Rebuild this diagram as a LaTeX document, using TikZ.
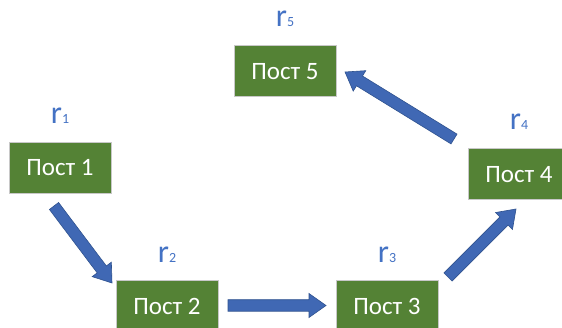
\documentclass[tikz,border=0pt]{standalone}
\usepackage{fontspec}
\setmainfont{Carlito}
\usetikzlibrary{calc}
\definecolor{boxgreen}{HTML}{548235}
\definecolor{boxedge}{HTML}{C8C8C8}
\definecolor{lblblue}{HTML}{4472C4}
\definecolor{arrfill}{HTML}{4068B4}
\definecolor{arredge}{HTML}{2F528F}
\tikzset{
  post/.style={draw=boxedge, line width=1pt, fill=boxgreen, text=white,
    minimum width=102pt, minimum height=51pt, inner sep=0pt,
    font=\fontsize{25}{25}\selectfont},
  rlabel/.style={text=lblblue, anchor=base, inner sep=0pt},
  barrow/.style={fill=arrfill, draw=arredge, line width=0.6pt, line join=miter}
}
\newcommand\rlab[1]{{\fontsize{32}{32}\selectfont r}{\fontsize{14}{14}\selectfont #1}}
\newcommand\blockarrow[2]{%
  \coordinate (hh) at ($(#2)!17pt!(#1)$);
  \filldraw[barrow] ($(#1)!5.75pt!90:(#2)$) -- ($(hh)!5.75pt!90:(#2)$) -- ($(hh)!12pt!90:(#2)$) -- (#2)
    -- ($(hh)!12pt!-90:(#2)$) -- ($(hh)!5.75pt!-90:(#2)$) -- ($(#1)!5.75pt!-90:(#2)$) -- cycle;}
\begin{document}
\begin{tikzpicture}[x=1pt,y=-1pt]
\useasboundingbox (0,0) rectangle (562,328);
\clip (0,0) rectangle (562,328);
\fill[white] (0,0) rectangle (562,328);
\node[post] (p1) at (60,168) {Пост 1};
\node[post] (p2) at (167,306.5) {Пост 2};
\node[post] (p3) at (387,306.5) {Пост 3};
\node[post] (p4) at (519,174.5) {Пост 4};
\node[post] (p5) at (285,71.5) {Пост 5};
\node[rlabel] (r1) at ([yshift=18pt]p1.north) {\rlab{1}};
\node[rlabel] (r2) at ([yshift=18pt]p2.north) {\rlab{2}};
\node[rlabel] (r3) at ([yshift=18pt]p3.north) {\rlab{3}};
\node[rlabel] (r4) at ([yshift=19pt]p4.north) {\rlab{4}};
\node[rlabel] (r5) at ([yshift=19pt]p5.north) {\rlab{5}};
\coordinate (a1s) at (54,206);  \coordinate (a1e) at (112,283);
\coordinate (a2s) at (228,305.5); \coordinate (a2e) at (326,305.5);
\coordinate (a3s) at (448,277); \coordinate (a3e) at (516,209);
\coordinate (a4s) at (454,139); \coordinate (a4e) at (345,72);
\blockarrow{a1s}{a1e}
\blockarrow{a2s}{a2e}
\blockarrow{a3s}{a3e}
\blockarrow{a4s}{a4e}
\end{tikzpicture}
\end{document}
